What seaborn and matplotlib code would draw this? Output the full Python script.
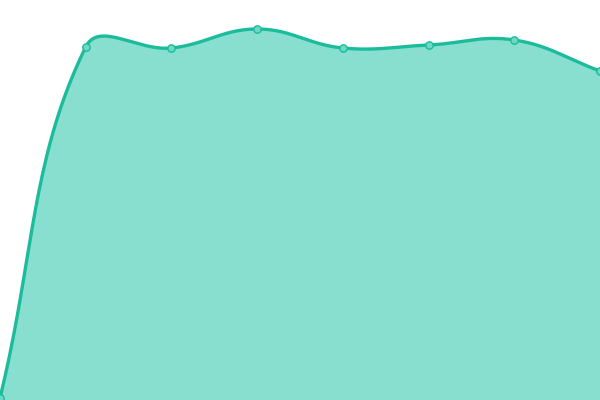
import numpy as np
import pandas as pd
import matplotlib
matplotlib.use("Agg")
import matplotlib.pyplot as plt
import seaborn as sns

# data (pixel-ish scale, 0 = bottom)
labels = ["A", "B", "C", "D", "E", "F", "G", "H"]
values = [2, 353, 352, 371, 352, 355, 360, 329]

W, H = 600, 400
ymax = 400
line_col = "#1abc9c"
fill_col = "#88dfcf"
dot_col = "#6cd9c3"


def spline(xs, ys, tension=0.4, steps=40):
    # chart.js style control points, computed in pixel space
    px = np.array(xs, float) * W / (len(xs) - 1)
    py = np.array(ys, float) * H / ymax
    n = len(px)
    cps = []
    for i in range(n):
        p0 = (px[max(i - 1, 0)], py[max(i - 1, 0)])
        p1 = (px[i], py[i])
        p2 = (px[min(i + 1, n - 1)], py[min(i + 1, n - 1)])
        d01 = np.hypot(p1[0] - p0[0], p1[1] - p0[1])
        d12 = np.hypot(p2[0] - p1[0], p2[1] - p1[1])
        s01 = d01 / (d01 + d12) if d01 + d12 else 0
        s12 = d12 / (d01 + d12) if d01 + d12 else 0
        fa, fb = tension * s01, tension * s12
        prev = (p1[0] - fa * (p2[0] - p0[0]), p1[1] - fa * (p2[1] - p0[1]))
        nxt = (p1[0] + fb * (p2[0] - p0[0]), p1[1] + fb * (p2[1] - p0[1]))
        cps.append((prev, nxt))
    outx, outy = [], []
    t = np.linspace(0, 1, steps)
    for i in range(n - 1):
        a = (px[i], py[i])
        b = cps[i][1]
        c = cps[i + 1][0]
        d = (px[i + 1], py[i + 1])
        for k in range(2):
            v = ((1 - t) ** 3) * a[k] + 3 * ((1 - t) ** 2) * t * b[k] + 3 * (1 - t) * t ** 2 * c[k] + t ** 3 * d[k]
            (outx if k == 0 else outy).extend(v if i == 0 else v[1:])
    outx = np.array(outx) * (len(xs) - 1) / W
    outy = np.array(outy) * ymax / H
    return outx, outy


xi = np.arange(len(labels))
sx, sy = spline(xi, values)
curve = pd.DataFrame({"x": sx, "y": sy})
pts = pd.DataFrame({"x": xi, "y": values})

fig = plt.figure(figsize=(6, 4), dpi=100)
ax = fig.add_axes([0, 0, 1, 1])
ax.fill_between(sx, sy, 0, color=fill_col, lw=0)
sns.lineplot(data=curve, x="x", y="y", color=line_col, lw=2.4, ax=ax, sort=False)
sns.scatterplot(data=pts, x="x", y="y", color=dot_col, edgecolor=line_col,
                linewidth=1, s=28, ax=ax, zorder=5)
ax.set_xlim(0, len(labels) - 1)
ax.set_ylim(0, ymax)
ax.axis("off")
fig.savefig("out.png", dpi=100)
